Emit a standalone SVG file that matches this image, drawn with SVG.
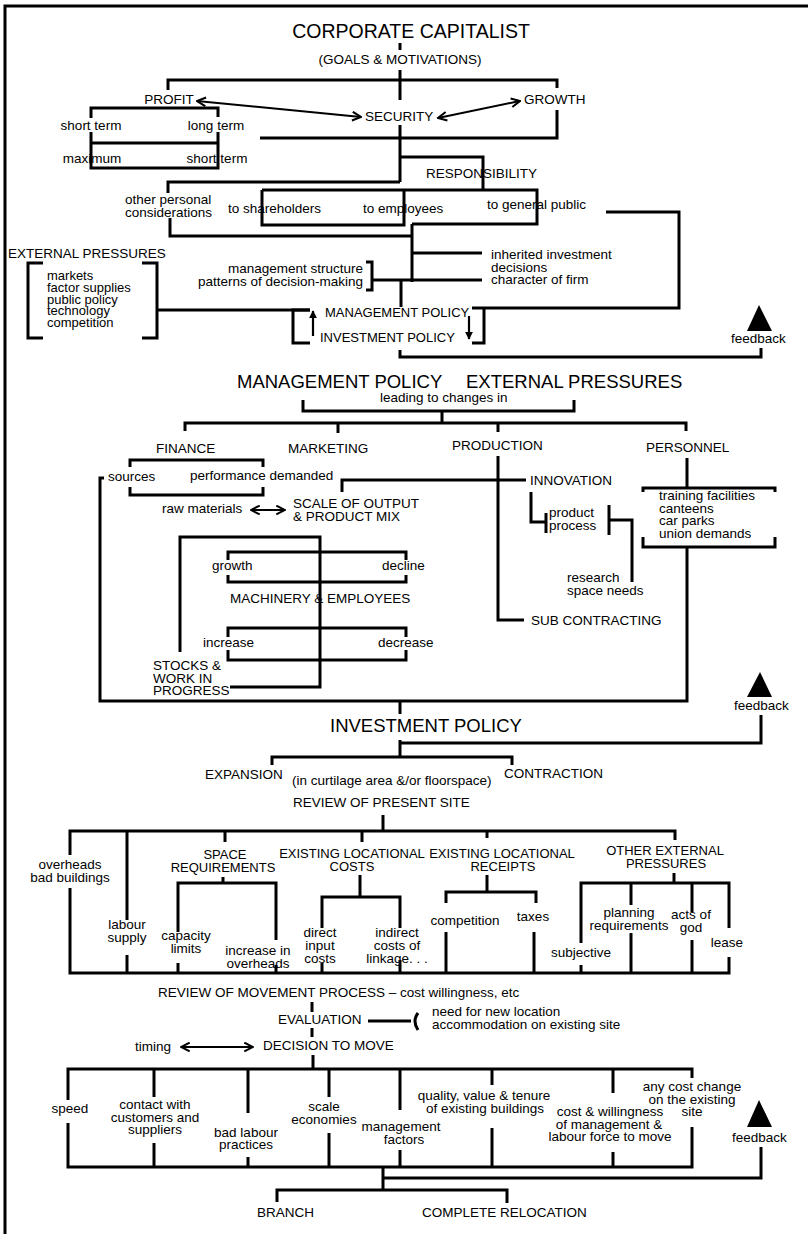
<svg xmlns="http://www.w3.org/2000/svg" width="808" height="1234" viewBox="0 0 808 1234">
<defs>
<marker id="oa" viewBox="0 0 12 12" refX="10.5" refY="6" markerWidth="11" markerHeight="11" markerUnits="userSpaceOnUse" orient="auto-start-reverse"><path d="M1,1.2 L10.5,6 L1,10.8" fill="none" stroke="#000" stroke-width="2.2"/></marker>
<marker id="fa" viewBox="0 0 10 10" refX="9" refY="5" markerWidth="8" markerHeight="9" markerUnits="userSpaceOnUse" orient="auto"><path d="M0,0 L10,5 L0,10 z" fill="#000"/></marker>
<style>
.c{fill:none;stroke:#000;stroke-width:3;stroke-linecap:butt;stroke-linejoin:miter}
.a{fill:none;stroke:#000;stroke-width:2;marker-start:url(#oa);marker-end:url(#oa)}
.u{fill:none;stroke:#000;stroke-width:2.2;marker-end:url(#fa)}
text{font-family:"Liberation Sans",Arial,Helvetica,sans-serif;fill:#000}
.t{font-size:13.5px}
.s{font-size:13px}
.h{font-size:18.5px}
.ti{font-size:19.5px}
.fb{fill:#000}
</style>
</defs>
<rect width="808" height="1234" fill="#fff"/>
<path class="c" d="M5,1234 V6 H808" stroke-width="2.5"/>

<g id="connectors">
<!-- section 1 -->
<path class="c" d="M400,43 V50"/>
<path class="c" d="M400,70 V100"/>
<path class="c" d="M168,90 V80 H557 V88"/>
<path class="a" d="M197,101 L361,117"/>
<path class="a" d="M438,118 L520,101"/>
<path class="c" d="M91,118 V108 H218 V117"/>
<path class="c" d="M91,132 V168 H218 V132"/>
<path class="c" d="M91,143 H218"/>
<path class="c" d="M260,138 H557 V110"/>
<path class="c" d="M400,125 V182"/>
<path class="c" d="M168,193 V182 H400"/>
<path class="c" d="M400,157 H483 V190"/>
<path class="c" d="M262,190 H537 V224 H412"/>
<path class="c" d="M262,190 V225 H404 V190"/>
<path class="c" d="M170,218 V236 H412"/>
<path class="c" d="M412,224 V282"/>
<path class="c" d="M412,253 H482"/>
<path class="c" d="M372,280 H482"/>
<path class="c" d="M366,262 H372 V290 H366"/>
<path class="c" d="M401,280 V307"/>
<path class="c" d="M43,263 H28 V338 H43"/>
<path class="c" d="M142,263 H157 V338 H142"/>
<path class="c" d="M157,310 H310"/>
<path class="c" d="M310,310 H293 V343 H310"/>
<path class="u" d="M313,336 V311"/>
<path class="u" d="M469,316 V339"/>
<path class="c" d="M606,212 H679 V308 H472"/>
<path class="c" d="M484,308 V343 H472"/>
<path class="c" d="M400,350 V357 H761 V348"/>
<path class="c" d="M303,400 V411 H574 V400"/>
<path class="c" d="M442,411 V422"/>
<path class="c" d="M185,431 V423 H686 V431"/>
<path class="c" d="M338,423 V433"/>
<path class="c" d="M498,423 V432"/>
<!-- section 2 -->
<path class="c" d="M130,467 V460 H263 V467"/>
<path class="c" d="M130,487 V495 H263 V487"/>
<path class="c" d="M104,478 H100 V701 H687 V547"/>
<path class="c" d="M342,492 V480 H526"/>
<path class="c" d="M498,456 V620 H524"/>
<path class="a" d="M251,510 H285" stroke-width="2.4"/>
<path class="c" d="M531,492 V522 H546"/>
<path class="c" d="M546,513 V533"/>
<path class="c" d="M609,505 V535"/>
<path class="c" d="M609,520 H632 V582"/>
<path class="c" d="M687,458 V488"/>
<path class="c" d="M643,492 V488 H775 V492"/>
<path class="c" d="M643,537 V547 H775 V537"/>
<path class="c" d="M180,652 V537 H320 V687 H230"/>
<path class="c" d="M228,560 V552 H406 V560"/>
<path class="c" d="M228,575 V582 H406 V575"/>
<path class="c" d="M228,637 V628 H406 V637"/>
<path class="c" d="M228,650 V660 H406 V650"/>
<path class="c" d="M400,701 V714"/>
<path class="c" d="M400,740 V757"/>
<path class="c" d="M400,743 H761 V715"/>
<path class="c" d="M272,765 V757 H512 V765"/>
<!-- section 3 -->
<path class="c" d="M383,815 V831"/>
<path class="c" d="M70,855 V831 H675 V840"/>
<path class="c" d="M127,831 V920"/>
<path class="c" d="M127,955 V973"/>
<path class="c" d="M225,831 V842"/>
<path class="c" d="M362,831 V842"/>
<path class="c" d="M487,831 V838"/>
<path class="c" d="M223,877 V883"/>
<path class="c" d="M178,932 V883 H276 V940"/>
<path class="c" d="M178,963 V973"/>
<path class="c" d="M276,965 V973"/>
<path class="c" d="M360,875 V897"/>
<path class="c" d="M322,928 V897 H400 V928"/>
<path class="c" d="M322,963 V973"/>
<path class="c" d="M400,960 V973"/>
<path class="c" d="M487,875 V892"/>
<path class="c" d="M446,903 V892 H536 V903"/>
<path class="c" d="M446,932 V973"/>
<path class="c" d="M534,932 V973"/>
<path class="c" d="M674,873 V883"/>
<path class="c" d="M581,943 V883 H729 V928"/>
<path class="c" d="M631,883 V905"/>
<path class="c" d="M692,883 V912"/>
<path class="c" d="M581,965 V973"/>
<path class="c" d="M631,933 V973"/>
<path class="c" d="M692,940 V973"/>
<path class="c" d="M70,888 V973 H729 V957"/>
<path class="c" d="M312,1002 V1012"/>
<path class="c" d="M368,1021 H411"/>
<path class="c" d="M418,1013 Q412,1021 418,1030" stroke-width="2.5"/>
<path class="c" d="M312,1028 V1037"/>
<path class="a" d="M181,1047 H253" stroke-width="2.4"/>
<path class="c" d="M313,1055 V1069"/>
<path class="c" d="M68,1100 V1069 H692 V1078"/>
<path class="c" d="M68,1123 V1167 H692 V1127"/>
<path class="c" d="M154,1069 V1097"/>
<path class="c" d="M154,1143 V1167"/>
<path class="c" d="M248,1069 V1113"/>
<path class="c" d="M248,1157 V1167"/>
<path class="c" d="M329,1069 V1097"/>
<path class="c" d="M329,1133 V1167"/>
<path class="c" d="M400,1069 V1110"/>
<path class="c" d="M400,1150 V1167"/>
<path class="c" d="M492,1069 V1085"/>
<path class="c" d="M492,1128 V1167"/>
<path class="c" d="M613,1069 V1093"/>
<path class="c" d="M613,1152 V1167"/>
<path class="c" d="M383,1167 V1190"/>
<path class="c" d="M383,1178 H761 V1147"/>
<path class="c" d="M277,1202 V1190 H507 V1203"/>
</g>

<g id="corporate-capitalist">
<text class="ti" x="411" y="38" text-anchor="middle">CORPORATE CAPITALIST</text>
<text class="t" x="400" y="64" text-anchor="middle">(GOALS &amp; MOTIVATIONS)</text>
</g>
<g id="profit"><text class="t" x="169" y="104" text-anchor="middle">PROFIT</text></g>
<g id="security"><text class="t" x="365" y="121">SECURITY</text></g>
<g id="growth"><text class="t" x="524" y="104">GROWTH</text></g>
<g id="profit-terms">
<text class="t" x="91" y="130" text-anchor="middle">short term</text>
<text class="t" x="216" y="130" text-anchor="middle">long term</text>
<text class="t" x="92" y="163" text-anchor="middle">maximum</text>
<text class="t" x="217" y="163" text-anchor="middle">short term</text>
</g>
<g id="responsibility"><text class="t" x="426" y="178">RESPONSIBILITY</text></g>
<g id="other-personal">
<text class="t" x="125" y="204">other personal</text>
<text class="t" x="125" y="217">considerations</text>
</g>
<g id="to-shareholders"><text class="t" x="228" y="213">to shareholders</text></g>
<g id="to-employees"><text class="t" x="363" y="213">to employees</text></g>
<g id="to-general-public"><text class="t" x="487" y="209">to general public</text></g>
<g id="external-pressures-1">
<text class="t" x="8" y="258">EXTERNAL PRESSURES</text>
<text class="s" x="47" y="280">markets</text>
<text class="s" x="47" y="292">factor supplies</text>
<text class="s" x="47" y="303.5">public policy</text>
<text class="s" x="47" y="315">technology</text>
<text class="s" x="47" y="327">competition</text>
</g>
<g id="management-structure">
<text class="t" x="363" y="273" text-anchor="end">management structure</text>
<text class="t" x="363" y="285.5" text-anchor="end">patterns of decision-making</text>
</g>
<g id="inherited">
<text class="t" x="491" y="259">inherited investment</text>
<text class="t" x="491" y="271.5">decisions</text>
<text class="t" x="491" y="284">character of firm</text>
</g>
<g id="policy-1">
<text class="s" x="325" y="317">MANAGEMENT POLICY</text>
<text class="s" x="320" y="342">INVESTMENT POLICY</text>
</g>
<g id="feedback-1">
<polygon class="fb" points="759,305 772,331 747,331"/>
<text class="t" x="731" y="343">feedback</text>
</g>

<g id="management-policy-2">
<text class="h" x="237" y="388">MANAGEMENT POLICY</text>
<text class="h" x="466" y="388">EXTERNAL PRESSURES</text>
<text class="t" x="380" y="402">leading to changes in</text>
</g>
<g id="finance">
<text class="t" x="156" y="453">FINANCE</text>
<text class="t" x="108" y="481">sources</text>
<text class="t" x="190" y="480">performance demanded</text>
</g>
<g id="marketing"><text class="t" x="288" y="453">MARKETING</text></g>
<g id="production"><text class="t" x="452" y="450">PRODUCTION</text></g>
<g id="personnel">
<text class="t" x="646" y="452">PERSONNEL</text>
<text class="t" x="659" y="500">training facilities</text>
<text class="t" x="659" y="512.5">canteens</text>
<text class="t" x="659" y="525">car parks</text>
<text class="t" x="659" y="537.5">union demands</text>
</g>
<g id="innovation">
<text class="t" x="530" y="485">INNOVATION</text>
<text class="t" x="549" y="517">product</text>
<text class="t" x="549" y="529.5">process</text>
<text class="t" x="567" y="582">research</text>
<text class="t" x="567" y="594.5">space needs</text>
</g>
<g id="scale-of-output">
<text class="t" x="162" y="513">raw materials</text>
<text class="t" x="293" y="508">SCALE OF OUTPUT</text>
<text class="t" x="293" y="520.5">&amp; PRODUCT MIX</text>
</g>
<g id="machinery">
<text class="t" x="212" y="570">growth</text>
<text class="t" x="382" y="570">decline</text>
<text class="t" x="230" y="603">MACHINERY &amp; EMPLOYEES</text>
<text class="t" x="203" y="647">increase</text>
<text class="t" x="378" y="647">decrease</text>
</g>
<g id="stocks">
<text class="t" x="153" y="670">STOCKS &amp;</text>
<text class="t" x="153" y="682.5">WORK IN</text>
<text class="t" x="153" y="695">PROGRESS</text>
</g>
<g id="sub-contracting"><text class="t" x="531" y="625">SUB CONTRACTING</text></g>
<g id="feedback-2">
<polygon class="fb" points="760,672 772,697 747,697"/>
<text class="t" x="734" y="710">feedback</text>
</g>

<g id="investment-policy">
<text class="h" x="330" y="732">INVESTMENT POLICY</text>
<text class="t" x="205" y="779">EXPANSION</text>
<text class="t" x="292" y="785">(in curtilage area &amp;/or floorspace)</text>
<text class="t" x="504" y="778">CONTRACTION</text>
</g>
<g id="review-present-site"><text class="t" x="293" y="807">REVIEW OF PRESENT SITE</text></g>
<g id="overheads">
<text class="t" x="70" y="869" text-anchor="middle">overheads</text>
<text class="t" x="70" y="882" text-anchor="middle">bad buildings</text>
</g>
<g id="labour-supply">
<text class="t" x="127" y="929" text-anchor="middle">labour</text>
<text class="t" x="127" y="942" text-anchor="middle">supply</text>
</g>
<g id="space-requirements">
<text class="s" x="225" y="859" text-anchor="middle">SPACE</text>
<text class="s" x="223" y="871.5" text-anchor="middle">REQUIREMENTS</text>
<text class="t" x="186" y="940" text-anchor="middle">capacity</text>
<text class="t" x="186" y="952.5" text-anchor="middle">limits</text>
<text class="t" x="258" y="955" text-anchor="middle">increase in</text>
<text class="t" x="258" y="967.5" text-anchor="middle">overheads</text>
</g>
<g id="locational-costs">
<text class="s" x="352" y="858" text-anchor="middle">EXISTING LOCATIONAL</text>
<text class="s" x="352" y="870.5" text-anchor="middle">COSTS</text>
<text class="t" x="320" y="937" text-anchor="middle">direct</text>
<text class="t" x="320" y="950" text-anchor="middle">input</text>
<text class="t" x="320" y="963" text-anchor="middle">costs</text>
<text class="t" x="397" y="937" text-anchor="middle">indirect</text>
<text class="t" x="397" y="950" text-anchor="middle">costs of</text>
<text class="t" x="397" y="963" text-anchor="middle">linkage. . .</text>
</g>
<g id="locational-receipts">
<text class="s" x="502" y="858" text-anchor="middle">EXISTING LOCATIONAL</text>
<text class="s" x="503" y="870.5" text-anchor="middle">RECEIPTS</text>
<text class="t" x="465" y="925" text-anchor="middle">competition</text>
<text class="t" x="533" y="921" text-anchor="middle">taxes</text>
</g>
<g id="other-external-pressures">
<text class="s" x="665" y="855" text-anchor="middle">OTHER EXTERNAL</text>
<text class="s" x="666" y="867.5" text-anchor="middle">PRESSURES</text>
<text class="t" x="581" y="957" text-anchor="middle">subjective</text>
<text class="t" x="629" y="917" text-anchor="middle">planning</text>
<text class="t" x="629" y="929.5" text-anchor="middle">requirements</text>
<text class="t" x="691" y="919" text-anchor="middle">acts of</text>
<text class="t" x="691" y="931.5" text-anchor="middle">god</text>
<text class="t" x="727" y="947" text-anchor="middle">lease</text>
</g>
<g id="review-movement"><text class="t" x="158" y="997">REVIEW OF MOVEMENT PROCESS – cost willingness, etc</text></g>
<g id="evaluation">
<text class="t" x="278" y="1024">EVALUATION</text>
<text class="t" x="432" y="1016">need for new location</text>
<text class="t" x="432" y="1028.5">accommodation on existing site</text>
</g>
<g id="decision-to-move">
<text class="t" x="135" y="1051">timing</text>
<text class="t" x="263" y="1050">DECISION TO MOVE</text>
</g>
<g id="factors">
<text class="t" x="70" y="1113" text-anchor="middle">speed</text>
<text class="t" x="155" y="1109" text-anchor="middle">contact with</text>
<text class="t" x="155" y="1121.5" text-anchor="middle">customers and</text>
<text class="t" x="155" y="1134" text-anchor="middle">suppliers</text>
<text class="t" x="246" y="1136.5" text-anchor="middle">bad labour</text>
<text class="t" x="246" y="1149" text-anchor="middle">practices</text>
<text class="t" x="324" y="1111" text-anchor="middle">scale</text>
<text class="t" x="324" y="1123.5" text-anchor="middle">economies</text>
<text class="t" x="401" y="1131" text-anchor="middle">management</text>
<text class="t" x="404" y="1143.5" text-anchor="middle">factors</text>
<text class="t" x="484" y="1100" text-anchor="middle">quality, value &amp; tenure</text>
<text class="t" x="485" y="1112.5" text-anchor="middle">of existing buildings</text>
<text class="t" x="610" y="1116" text-anchor="middle">cost &amp; willingness</text>
<text class="t" x="609" y="1128.5" text-anchor="middle">of management &amp;</text>
<text class="t" x="610" y="1141" text-anchor="middle">labour force to move</text>
<text class="t" x="692" y="1091" text-anchor="middle">any cost change</text>
<text class="t" x="692" y="1103.5" text-anchor="middle">on the existing</text>
<text class="t" x="692" y="1116" text-anchor="middle">site</text>
</g>
<g id="feedback-3">
<polygon class="fb" points="759,1100 772,1127 747,1127"/>
<text class="t" x="732" y="1142">feedback</text>
</g>
<g id="branch"><text class="t" x="257" y="1217">BRANCH</text></g>
<g id="complete-relocation"><text class="t" x="422" y="1217">COMPLETE RELOCATION</text></g>
</svg>
